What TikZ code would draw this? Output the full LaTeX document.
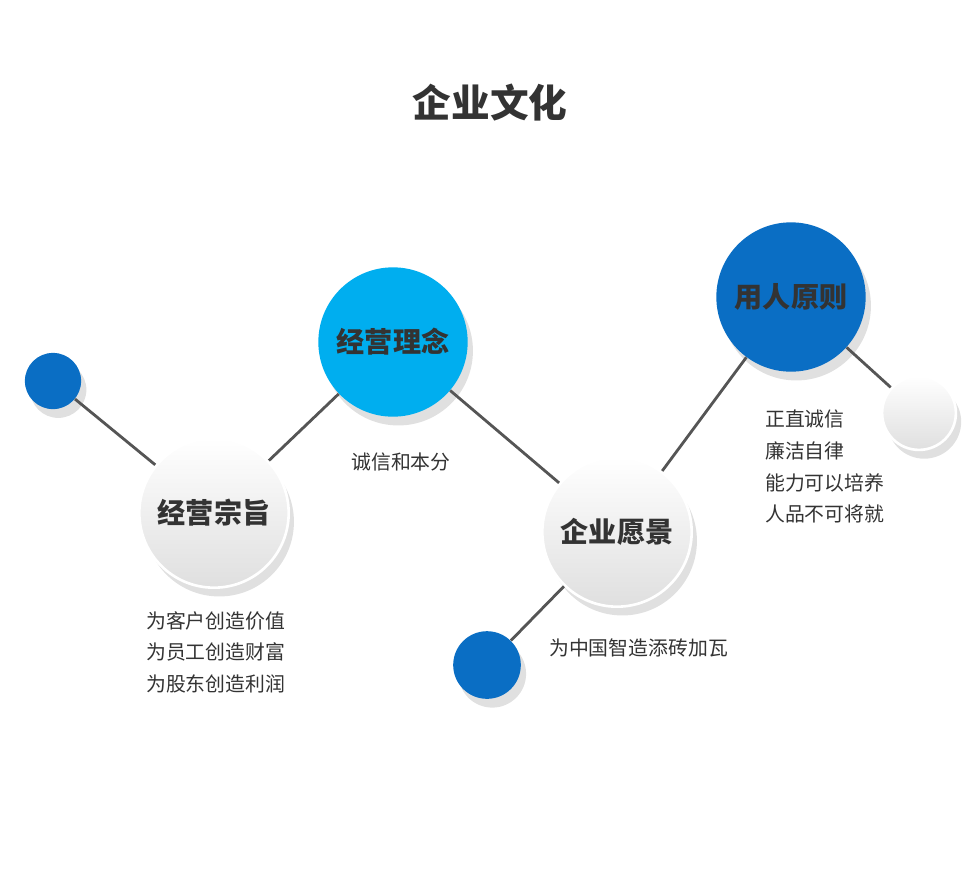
\documentclass[tikz,border=0pt]{standalone}
\usepackage{fontspec}
\setmainfont{Noto Sans CJK SC}
\usepackage{xcolor}
\usepackage{tikz}
\usetikzlibrary{positioning, shadows}
\definecolor{skyblue}{HTML}{00AEEF}
\definecolor{deepblue}{HTML}{0A6EC4}
\definecolor{linegray}{HTML}{555555}
\definecolor{txtgray}{HTML}{333333}
\tikzset{
  ball/.style={circle, inner sep=0pt, minimum size=#1, drop shadow={shadow xshift=3pt, shadow yshift=-5pt, opacity=0.12, fill=black}},
  whiteball/.style={ball=#1, top color=white, bottom color=gray!25, draw=white, line width=1.5pt},
  blueball/.style={ball=#1, fill=deepblue},
  lightball/.style={ball=#1, fill=skyblue},
  head/.style={font=\fontsize{16}{18}\selectfont\bfseries, text=txtgray},
  body/.style={font=\fontsize{11.3}{18}\selectfont, text=txtgray, align=left},
  link/.style={draw=linegray, line width=1.6pt}
}
\begin{document}
\begin{tikzpicture}[x=0.02cm, y=-0.02cm]
\useasboundingbox (0,0) rectangle (980,870);

% Title
\node[font=\fontsize{22}{24}\selectfont\bfseries, text=txtgray] (title) at (490,103) {企业文化};

% Circles
\node[blueball=32pt] (dotA) at (53,381) {};
\node[whiteball=85pt, head] (aim) at (214,513) {经营宗旨};
\node[lightball=85pt, head] (idea) at (393,342) {经营理念};
\node[whiteball=85pt, head] (vision) at (617,532) {企业愿景};
\node[blueball=38.5pt] (dotB) at (487,665) {};
\node[blueball=85pt, head] (staff) at (791,297) {用人原则};
\node[whiteball=42pt] (dotC) at (919,413) {};

% Connectors
\draw[link] (dotA) -- (aim);
\draw[link] (aim) -- (idea);
\draw[link] (idea) -- (vision);
\draw[link] (vision) -- (dotB);
\draw[link] (vision) -- (staff);
\draw[link] (staff) -- (dotC);

% Texts
\node[body, anchor=north west] (aimtxt) at (140,605) {为客户创造价值\\为员工创造财富\\为股东创造利润};
\node[body] (ideatxt) at (401,462) {诚信和本分};
\node[body, anchor=west] (visiontxt) at (543,648) {为中国智造添砖加瓦};
\node[body, anchor=north west] (stafftxt) at (759,404) {正直诚信\\廉洁自律\\能力可以培养\\人品不可将就};
\end{tikzpicture}
\end{document}
